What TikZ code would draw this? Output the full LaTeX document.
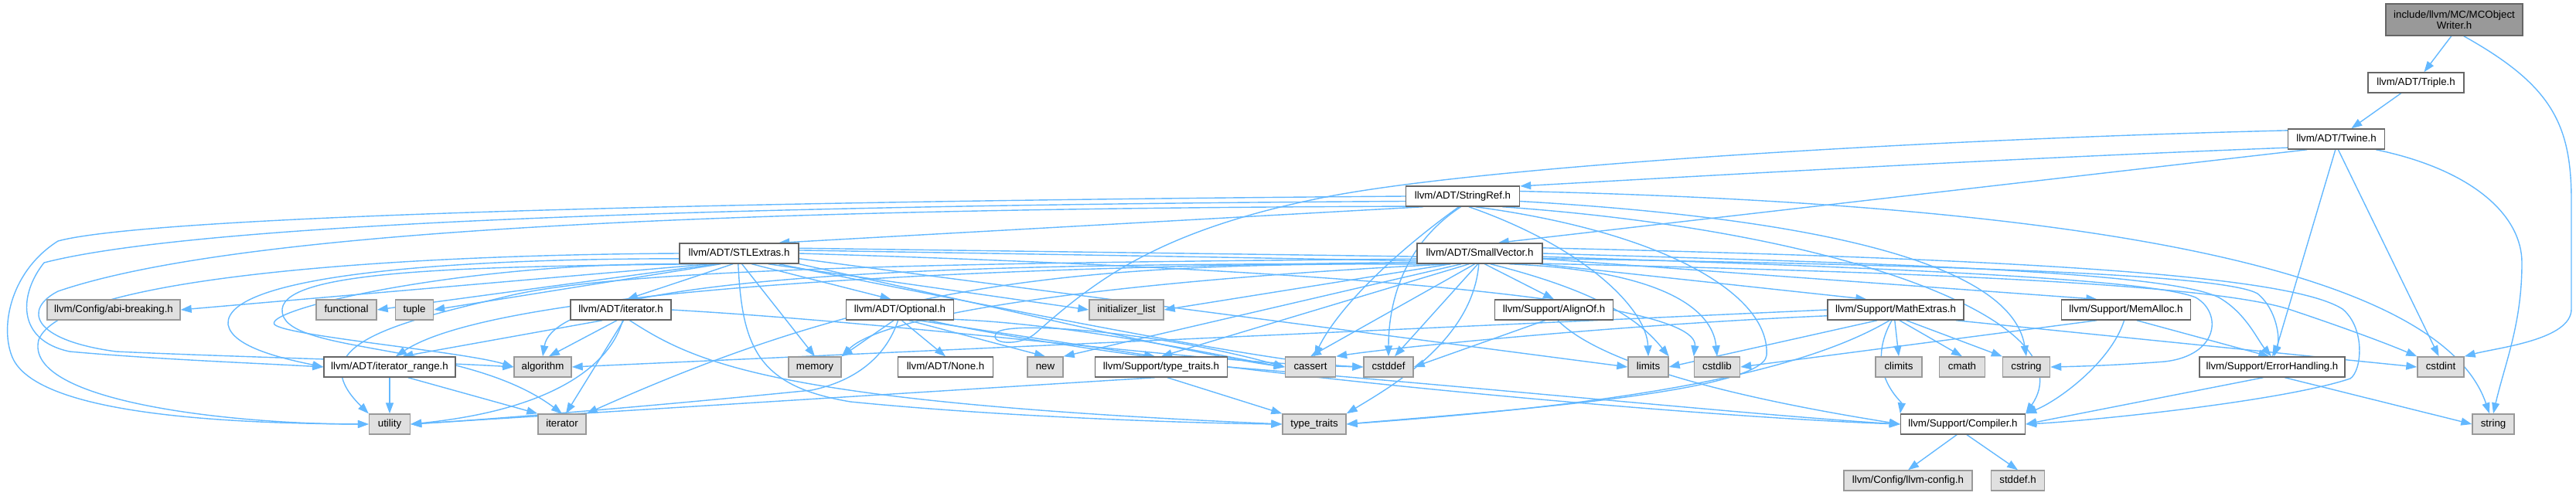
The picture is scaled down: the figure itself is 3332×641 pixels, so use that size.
\documentclass[tikz,border=0pt]{standalone}
\usepackage{fontspec}
\setmainfont{Liberation Sans}
\usetikzlibrary{arrows.meta}
\pgfdeclarelayer{background}
\pgfsetlayers{background,main}
\definecolor{edgec}{HTML}{63B8FF}
\definecolor{sysfill}{HTML}{E0E0E0}
\definecolor{sysline}{HTML}{999999}
\definecolor{hdrline}{HTML}{666666}
\definecolor{rootfill}{HTML}{999999}
\tikzset{
  hdr/.style={draw=hdrline, fill=white, line width=1.4pt, minimum height=26pt,
    inner xsep=3pt, inner ysep=0pt, font=\fontsize{13.3}{14}\selectfont,
    text height=9.6pt, text depth=2.8pt},
  sys/.style={hdr, draw=sysline, fill=sysfill},
  rootnode/.style={hdr, fill=rootfill, align=center, minimum height=41pt, text height=, text depth=},
  e/.style={draw=edgec, line width=1.4pt, -{Triangle[length=14pt,width=10pt]}},
}
\begin{document}
\begin{tikzpicture}[x=1pt,y=-1pt]
\useasboundingbox (0,0) rectangle (3332,641);
% nodes
\node[rootnode, minimum width=177pt] (root) at (3174.5,25.5) {include/llvm/MC/MCObject\\Writer.h};
\node[hdr, minimum width=124pt] (triple) at (3125,107) {llvm/ADT/Triple.h};
\node[hdr, minimum width=125pt] (twine) at (3022,180) {llvm/ADT/Twine.h};
\node[hdr, minimum width=147pt] (sr) at (1892,254) {llvm/ADT/StringRef.h};
\node[hdr, minimum width=154pt] (stl) at (956,328) {llvm/ADT/STLExtras.h};
\node[hdr, minimum width=162pt] (sv) at (1914,328) {llvm/ADT/SmallVector.h};
\node[sys, minimum width=172pt] (abi) at (147,401) {llvm/Config/abi-breaking.h};
\node[sys, minimum width=78pt] (func) at (448,401) {functional};
\node[sys, minimum width=49pt] (tuple) at (536,401) {tuple};
\node[hdr, minimum width=130pt] (ith) at (803,401) {llvm/ADT/iterator.h};
\node[hdr, minimum width=139pt] (opt) at (1164,401) {llvm/ADT/Optional.h};
\node[sys, minimum width=96pt] (il) at (1457,401) {initializer\_list};
\node[hdr, minimum width=153pt] (alo) at (2010,401) {llvm/Support/AlignOf.h};
\node[hdr, minimum width=176pt] (me) at (2452,401) {llvm/Support/MathExtras.h};
\node[hdr, minimum width=167pt] (ma) at (2750,401) {llvm/Support/MemAlloc.h};
\node[hdr, minimum width=170pt] (ir) at (504,475) {llvm/ADT/iterator\_range.h};
\node[sys, minimum width=74pt] (alg) at (702,475) {algorithm};
\node[sys, minimum width=68pt] (mem) at (1054,475) {memory};
\node[hdr, minimum width=123pt] (none) at (1223,475) {llvm/ADT/None.h};
\node[sys, minimum width=46pt] (nw) at (1352,475) {new};
\node[hdr, minimum width=171pt] (tth) at (1502,475) {llvm/Support/type\_traits.h};
\node[sys, minimum width=65pt] (cas) at (1695,475) {cassert};
\node[sys, minimum width=64pt] (cdf) at (1796,475) {cstddef};
\node[sys, minimum width=52pt] (lim) at (2132,475) {limits};
\node[sys, minimum width=59pt] (cstl) at (2221,475) {cstdlib};
\node[sys, minimum width=60pt] (clim) at (2456,475) {climits};
\node[sys, minimum width=59pt] (cmath) at (2538,475) {cmath};
\node[sys, minimum width=61pt] (cstr) at (2621,475) {cstring};
\node[hdr, minimum width=188pt] (eh) at (2939,475) {llvm/Support/ErrorHandling.h};
\node[sys, minimum width=60pt] (cint) at (3157,475) {cstdint};
\node[sys, minimum width=53pt] (util) at (504,549) {utility};
\node[sys, minimum width=62pt] (iter) at (727,549) {iterator};
\node[sys, minimum width=82pt] (tt) at (1700,549) {type\_traits};
\node[hdr, minimum width=161pt] (comp) at (2539,549) {llvm/Support/Compiler.h};
\node[sys, minimum width=54pt] (str) at (3225,549) {string};
\node[sys, minimum width=166pt] (lcfg) at (2468,622) {llvm/Config/llvm-config.h};
\node[sys, minimum width=69pt] (stdf) at (2610,622) {stddef.h};
\begin{pgfonlayer}{background}
% root
\draw[e] (root.-100) -- (triple);
\draw[e] (root.-60) .. controls (3300,110) and (3326,160) .. (3326,260) -- (3326,400) .. controls (3326,440) and (3230,450) .. (cint.north east);
\draw[e] (triple) -- (twine);
% twine
\draw[e] (twine.190) .. controls (2600,205) and (2250,225) .. (sr.10);
\draw[e] (twine.200) -- (sv.30);
\draw[e] (twine.170) .. controls (2500,180) and (1900,215) .. (1700,258) .. controls (1500,300) and (1420,360) .. (1341,430) .. controls (1320,450) and (1275,445) .. (1290,430) .. controls (1310,415) and (1500,430) .. (cas.west);
\draw[e] (twine.-95) -- (eh.80);
\draw[e] (twine.-80) -- (cint.100);
\draw[e] (twine.-15) .. controls (3200,220) and (3262,280) .. (3262,340) .. controls (3262,420) and (3240,470) .. (str.north);
% StringRef
\draw[e] (sr.195) -- (stl.15);
\draw[e] (sr.west) .. controls (1000,260) and (200,278) .. (75,312) .. controls (15,350) and (0,420) .. (15,460) .. controls (40,530) and (250,548) .. (util.west);
\draw[e] (sr.185) .. controls (900,266) and (250,290) .. (57,340) .. controls (25,380) and (20,440) .. (90,455) .. controls (200,465) and (330,470) .. (ir.west);
\draw[e] (sr.190) .. controls (900,270) and (300,300) .. (75,377) .. controls (30,400) and (40,440) .. (150,455) .. controls (300,462) and (550,468) .. (alg.west);
\draw[e] (sr.-110) .. controls (1800,330) and (1730,400) .. (cas.70);
\draw[e] (sr.-100) .. controls (1810,320) and (1796,400) .. (cdf.north);
\draw[e] (sr.-60) .. controls (2050,320) and (2130,400) .. (lim.north);
\draw[e] (sr.-40) .. controls (2150,300) and (2290,380) .. (2285,460) .. controls (2280,510) and (1900,535) .. (tt.east);
\draw[e] (sr.-5) .. controls (2300,280) and (2600,330) .. (cstr.north);
\draw[e] (sr.5) .. controls (2600,262) and (3150,330) .. (str.110);
\draw[e] (sr.-15) .. controls (2400,300) and (2700,420) .. (comp.north east);
% SmallVector
\draw[e] (sv.188) .. controls (1300,345) and (650,370) .. (ir.60);
\draw[e] (sv.185) .. controls (1300,340) and (800,345) .. (650,385) .. controls (500,420) and (390,450) .. (util.north west);
\draw[e] (sv.192) .. controls (1300,340) and (720,350) .. (alg.north);
\draw[e] (sv.195) .. controls (1400,340) and (1150,360) .. (iter.north east);
\draw[e] (sv.200) .. controls (1500,360) and (1150,400) .. (mem.north east);
\draw[e] (sv.-160) -- (il.east);
\draw[e] (sv.-150) -- (nw.north east);
\draw[e] (sv.-135) -- (tth.north);
\draw[e] (sv.-115) -- (cas.north);
\draw[e] (sv.-100) -- (cdf.60);
\draw[e] (sv.-95) .. controls (1905,440) and (1800,500) .. (tt.north east);
\draw[e] (sv.-65) -- (alo.north);
\draw[e] (sv.-45) .. controls (2080,380) and (2125,420) .. (lim.north east);
\draw[e] (sv.-20) .. controls (2150,350) and (2215,400) .. (cstl.north);
\draw[e] (sv.-10) -- (me.160);
\draw[e] (sv.-5) -- (ma.160);
\draw[e] (sv.0) .. controls (2400,340) and (2800,350) .. (2870,385) .. controls (2905,405) and (2920,440) .. (eh.95);
\draw[e] (sv.5) .. controls (2600,335) and (2960,355) .. (3030,400) .. controls (3060,425) and (3055,480) .. (3040,490) .. controls (2950,520) and (2700,545) .. (comp.east);
\draw[e] (sv.-3) .. controls (2400,345) and (2780,360) .. (2840,385) .. controls (2875,405) and (2870,460) .. (2800,468) .. controls (2750,472) and (2700,474) .. (cstr.east);
% STLExtras
\draw[e] (stl.-40) -- (opt.130);
\draw[e] (stl.-120) -- (ith.60);
\draw[e] (stl.185) .. controls (550,335) and (290,360) .. (295,420) .. controls (300,450) and (370,465) .. (ir.west);
\draw[e] (stl.180) .. controls (500,330) and (80,360) .. (50,440) .. controls (30,520) and (300,549) .. (util.west);
\draw[e] (stl.190) .. controls (600,340) and (340,400) .. (355,420) .. controls (370,435) and (600,455) .. (alg.west);
\draw[e] (stl.195) .. controls (600,345) and (370,350) .. (365,400) .. controls (360,460) and (600,440) .. (iter.north);
\draw[e] (stl.-95) .. controls (960,450) and (980,500) .. (1100,520) .. controls (1300,540) and (1550,548) .. (tt.west);
\draw[e] (stl.200) -- (abi.east);
\draw[e] (stl.205) -- (func.east);
\draw[e] (stl.210) -- (tuple.east);
\draw[e] (stl.-75) -- (mem.north);
\draw[e] (stl.-20) -- (il.west);
\draw[e] (stl.-10) .. controls (1300,400) and (1550,460) .. (cas.west);
\draw[e] (stl.-15) .. controls (1350,410) and (1650,470) .. (cdf.west);
\draw[e] (stl.-5) -- (lim.west);
\draw[e] (stl.0) .. controls (1600,345) and (2200,380) .. (cstl.north west);
\draw[e] (stl.3) .. controls (2000,340) and (2800,350) .. (2960,400) .. controls (3050,430) and (3100,450) .. (cint.north west);
\draw[e] (stl.5) .. controls (2000,335) and (2850,340) .. (2920,380) .. controls (2945,400) and (2950,440) .. (eh.north);
% Optional
\draw[e] (opt.-120) -- (mem.north east);
\draw[e] (opt.-80) -- (none.north);
\draw[e] (opt.-50) -- (nw.north);
\draw[e] (opt.-30) -- (tth.120);
\draw[e] (opt.-10) .. controls (1400,420) and (1600,465) .. (cas.west);
\draw[e] (opt.-20) .. controls (1500,480) and (2200,540) .. (comp.west);
\draw[e] (opt.-100) .. controls (1150,450) and (1120,490) .. (1050,505) .. controls (800,530) and (600,545) .. (util.east);
% iterator.h
\draw[e] (ith.-150) -- (ir.40);
\draw[e] (ith.-110) -- (alg.60);
\draw[e] (ith.-80) .. controls (790,470) and (720,530) .. (util.east);
\draw[e] (ith.-75) -- (iter.70);
\draw[e] (ith.-50) .. controls (900,470) and (1000,520) .. (tt.west);
\draw[e] (ith.east) .. controls (1200,420) and (1550,470) .. (cdf.west);
% iterator_range
\draw[e] (ir) -- (util);
\draw[e] (ir.-30) -- (iter.north west);
% type_traits.h
\draw[e] (tth.-120) -- (util.east);
\draw[e] (tth.-60) -- (tt.north west);
\draw[e] (tth.east) .. controls (1900,500) and (2300,540) .. (comp.west);
% AlignOf
\draw[e] (alo.-130) -- (cdf.east);
\draw[e] (alo.-70) .. controls (2050,450) and (2150,500) .. (comp.west);
% MathExtras
\draw[e] (me.west) -- (alg.east);
\draw[e] (me.185) .. controls (2100,420) and (1800,450) .. (cas.north east);
\draw[e] (me.-150) -- (lim.east);
\draw[e] (me.-95) -- (clim.north);
\draw[e] (me.-70) -- (cmath.north);
\draw[e] (me.-45) -- (cstr.north west);
\draw[e] (me.-10) -- (cint.west);
\draw[e] (me.-110) .. controls (2410,480) and (2460,520) .. (comp.north west);
\draw[e] (me.-120) .. controls (2300,500) and (2000,530) .. (tt.east);
% MemAlloc
\draw[e] (ma.-160) -- (cstl.east);
\draw[e] (ma.-100) .. controls (2730,470) and (2660,520) .. (comp.north east);
\draw[e] (ma.-45) -- (eh.105);
% ErrorHandling
\draw[e] (eh.-130) -- (comp.east);
\draw[e] (eh.-40) -- (str.west);
% Compiler
\draw[e] (comp.-120) -- (lcfg.north);
\draw[e] (comp.-70) -- (stdf.north);
\end{pgfonlayer}
\end{tikzpicture}
\end{document}
